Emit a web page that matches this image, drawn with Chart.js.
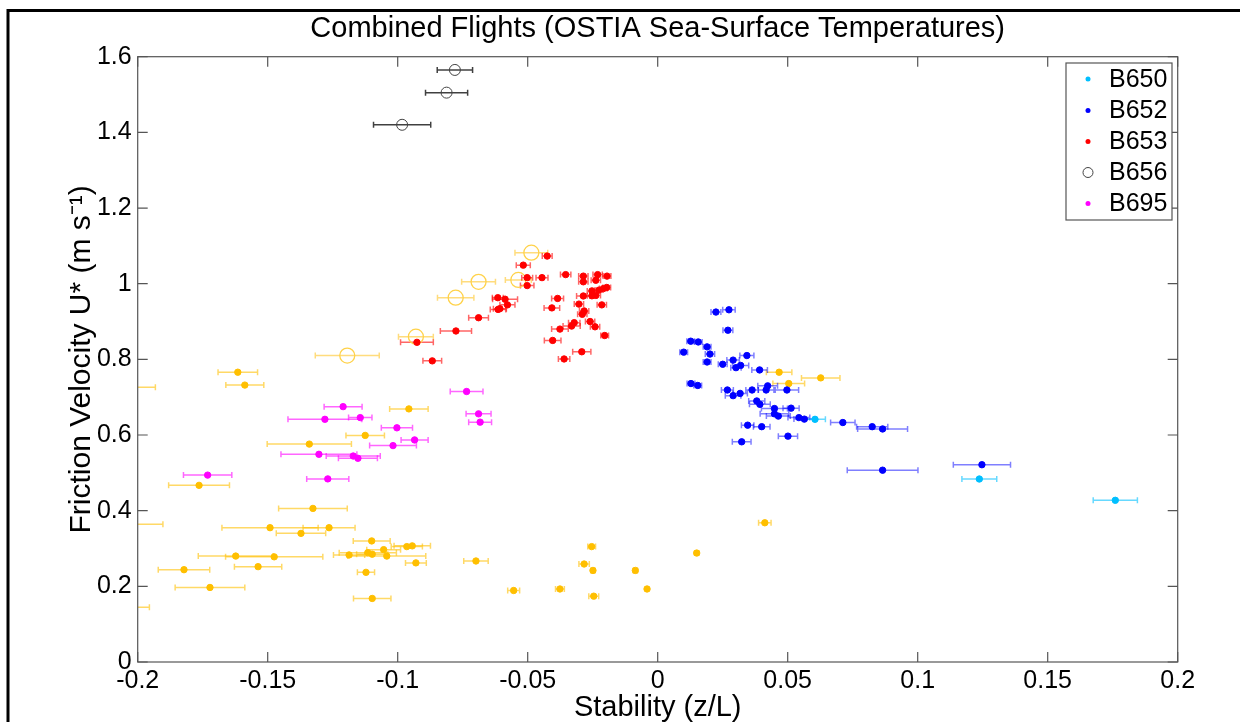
<!DOCTYPE html>
<html><head><meta charset="utf-8">
<script src="https://cdn.jsdelivr.net/npm/chart.js@4.4.0/dist/chart.umd.min.js"></script>
<style>html,body{margin:0;padding:0;background:#fff;}#wrap{width:1240px;height:722px;position:relative;}</style>
</head><body><div id="wrap"><canvas id="c" width="1240" height="722"></canvas></div>
<script>
// ---------- DATA ----------
const chartTitle = 'Combined Flights (OSTIA Sea-Surface Temperatures)';
const xAxisTitle = 'Stability (z/L)';
const yAxisTitle = 'Friction Velocity U* (m s\u207B\u00B9)';
const xTickLabels = ['-0.2','-0.15','-0.1','-0.05','0','0.05','0.1','0.15','0.2'];
const yTickLabels = ['0','0.2','0.4','0.6','0.8','1','1.2','1.4','1.6'];
const legendLabels = ['B650','B652','B653','B656','B695'];

const b650X = [0.0605, 0.1237, 0.176];
const b650Y = [0.6415, 0.4837, 0.4274];
const b650E = [0.004, 0.0067, 0.0085];

const b652X = [0.0224,0.0274,0.027,0.0127,0.0156,0.019,0.010,0.0201,0.0343,0.019,0.029,0.025,0.0319,0.0301,0.0392,0.0128,0.0154,0.0423,0.0268,0.0363,0.0417,0.0497,0.0317,0.029,0.0381,0.0393,0.0449,0.0513,0.0449,0.0464,0.0543,0.0564,0.0712,0.0825,0.0865,0.0346,0.040,0.0501,0.0323,0.1247,0.0865];
const b652Y = [0.925,0.931,0.877,0.848,0.846,0.833,0.819,0.814,0.810,0.793,0.798,0.787,0.784,0.778,0.772,0.736,0.731,0.730,0.719,0.719,0.719,0.719,0.710,0.704,0.690,0.681,0.670,0.671,0.656,0.650,0.646,0.642,0.633,0.622,0.616,0.626,0.622,0.597,0.582,0.5215,0.507];
const b652E = [0.0019,0.0024,0.0019,0.0015,0.0015,0.0015,0.0015,0.0018,0.0027,0.0015,0.0024,0.0017,0.0031,0.002,0.003,0.0015,0.0015,0.0038,0.0023,0.0024,0.003,0.0045,0.0028,0.003,0.0031,0.004,0.005,0.0031,0.0055,0.0046,0.0042,0.004,0.0047,0.006,0.0096,0.0024,0.0032,0.0037,0.0036,0.011,0.0136];

const b653X = [-0.0425,-0.0517,-0.0502,-0.0445,-0.0502,-0.0354,-0.0286,-0.0231,-0.0195,-0.0286,-0.0238,-0.0196,-0.0209,-0.0226,-0.0253,-0.0238,-0.0253,-0.0286,-0.0385,-0.0303,-0.0215,-0.0407,-0.0283,-0.029,-0.0321,-0.026,-0.0331,-0.0241,-0.0376,-0.0204,-0.0404,-0.0292,-0.036,-0.0615,-0.0587,-0.0578,-0.0614,-0.0607,-0.0689,-0.0776,-0.0926,-0.0867];
const b653Y = [1.073,1.049,1.016,1.016,0.995,1.024,1.020,1.024,1.020,1.005,1.009,0.990,0.987,0.983,0.981,0.969,0.968,0.9675,0.961,0.946,0.944,0.936,0.928,0.919,0.897,0.900,0.888,0.886,0.880,0.863,0.850,0.820,0.801,0.963,0.959,0.944,0.932,0.934,0.910,0.875,0.845,0.796];
const b653E = [0.0019,0.0027,0.0021,0.0023,0.0026,0.002,0.0018,0.0018,0.0015,0.0018,0.0018,0.0015,0.0015,0.0015,0.0018,0.0018,0.0018,0.0026,0.0023,0.0018,0.0018,0.003,0.0018,0.0018,0.0022,0.0018,0.0033,0.0018,0.0032,0.0015,0.0032,0.0035,0.0022,0.0021,0.0048,0.0029,0.003,0.0025,0.0038,0.006,0.0063,0.0036];

const b656X = [-0.078, -0.0812, -0.0983];
const b656Y = [1.565, 1.505, 1.42];
const b656E = [0.0068, 0.0081, 0.011];

const b695X = [-0.0735,-0.121,-0.1144,-0.128,-0.0689,-0.0683,-0.1003,-0.0935,-0.1018,-0.1303,-0.1171,-0.1153,-0.1731,-0.1269];
const b695Y = [0.715,0.675,0.646,0.6415,0.656,0.634,0.619,0.587,0.572,0.549,0.5445,0.5385,0.494,0.484];
const b695E = [0.0063,0.0073,0.0045,0.0142,0.0048,0.0044,0.006,0.0052,0.009,0.0146,0.0104,0.0075,0.0093,0.0081];

const otherOpenX = [-0.0486,-0.0689,-0.0536,-0.0777,-0.093,-0.1194];
const otherOpenY = [1.082,1.005,1.010,0.963,0.860,0.810];
const otherOpenE = [0.0063,0.0065,0.005,0.007,0.0067,0.0123];

const otherX = [-0.1615,-0.1588,-0.205,-0.0957,-0.1125,-0.134,-0.1764,-0.1326,-0.205,-0.1491,-0.1264,-0.1372,-0.110,-0.0965,-0.0944,-0.1054,-0.1115,-0.1098,-0.1187,-0.1042,-0.1623,-0.1475,-0.093,-0.0699,-0.1537,-0.1822,-0.1122,-0.1722,-0.0554,-0.0376,-0.1098,-0.205,0.0412,-0.0254,0.015,-0.0283,-0.0249,-0.0086,-0.0041,-0.0246,0.0467,0.0627,0.0504];
const otherY = [0.766,0.732,0.726,0.669,0.599,0.576,0.467,0.406,0.364,0.355,0.355,0.340,0.320,0.305,0.307,0.297,0.289,0.285,0.283,0.280,0.280,0.278,0.262,0.267,0.252,0.244,0.237,0.197,0.189,0.193,0.168,0.145,0.368,0.305,0.288,0.259,0.242,0.242,0.193,0.174,0.766,0.751,0.736];
const otherE = [0.0076,0.0073,0.0118,0.0074,0.0074,0.0162,0.0117,0.0132,0.0147,0.0185,0.010,0.0095,0.0071,0.006,0.007,0.0065,0.011,0.006,0.006,0.015,0.0144,0.0187,0.004,0.0047,0.0091,0.0099,0.0033,0.0134,0.0023,0.0017,0.0072,0.0095,0.0024,0.0015,0.0008,0.002,0.0008,0.0008,0.0006,0.0019,0.0049,0.0074,0.0061];

// ---------- BUILD ----------
const FONT = '"Liberation Sans", Arial, Helvetica, sans-serif';
function pts(xs, ys, es){ return xs.map((x,i)=>({x:x, y:ys[i], e:es[i]})); }
function ds(label, xs, ys, es, color, bar, opts){
  return Object.assign({label:label, data:pts(xs,ys,es), pointRadius:3.2, pointHoverRadius:3.2,
    backgroundColor:color, borderColor:color, pointBorderWidth:1, errColor:bar, showLine:false}, opts||{});
}
const datasets = [
  ds('B650', b650X, b650Y, b650E, '#00BFFF', 'rgba(0,191,255,0.6)', {inLegend:true}),
  ds('B652', b652X, b652Y, b652E, '#0000FF', 'rgba(0,0,255,0.5)', {inLegend:true}),
  ds('B653', b653X, b653Y, b653E, '#FF0000', 'rgba(255,0,0,0.6)', {inLegend:true}),
  ds('B656', b656X, b656Y, b656E, '#333333', 'rgba(0,0,0,0.75)', {inLegend:true, pointRadius:5.5, pointHoverRadius:5.5, backgroundColor:'rgba(255,255,255,0)', borderColor:'#444', pointBorderWidth:1}),
  ds('B695', b695X, b695Y, b695E, '#FF00FF', 'rgba(255,0,255,0.6)', {inLegend:true}),
  ds('other-open', otherOpenX, otherOpenY, otherOpenE, '#FFD24A', 'rgba(255,205,70,0.7)', {pointRadius:7.5, pointHoverRadius:7.5, backgroundColor:'rgba(255,255,255,0)', borderColor:'#FFD24A', pointBorderWidth:1.3}),
  ds('other', otherX, otherY, otherE, '#FFBF00', 'rgba(255,191,0,0.6)')
];

const PLOT = {left:137.7, right:1177.7, top:56.7, bottom:662};

const errorBars = {
  id:'errorBars',
  beforeDatasetsDraw(chart){
    const {ctx, chartArea:a, scales:{x, y}} = chart;
    ctx.save();
    ctx.beginPath(); ctx.rect(a.left, a.top, a.right-a.left, a.bottom-a.top); ctx.clip();
    for (let di = chart.data.datasets.length-1; di>=0; di--){
      const d = chart.data.datasets[di];
      ctx.strokeStyle = d.errColor; ctx.lineWidth = 1.5;
      d.data.forEach(p=>{
        const x0 = x.getPixelForValue(p.x - p.e), x1 = x.getPixelForValue(p.x + p.e), py = y.getPixelForValue(p.y);
        ctx.beginPath();
        ctx.moveTo(x0, py); ctx.lineTo(x1, py);
        ctx.moveTo(x0, py-3); ctx.lineTo(x0, py+3);
        ctx.moveTo(x1, py-3); ctx.lineTo(x1, py+3);
        ctx.stroke();
      });
    }
    ctx.restore();
  }
};

const decor = {
  id:'decor',
  afterDraw(chart){
    const {ctx, chartArea:a, scales:{x, y}} = chart;
    ctx.save();
    // figure frame
    ctx.strokeStyle = '#000'; ctx.lineWidth = 3;
    ctx.beginPath(); ctx.moveTo(8, 722); ctx.lineTo(8, 10.5); ctx.lineTo(1240, 10.5); ctx.stroke();
    // axes box
    ctx.strokeStyle = '#555'; ctx.lineWidth = 1.2;
    ctx.strokeRect(a.left, a.top, a.right-a.left, a.bottom-a.top);
    // inward ticks
    ctx.beginPath();
    x.ticks.forEach(t=>{ const px = x.getPixelForValue(t.value);
      ctx.moveTo(px, a.bottom); ctx.lineTo(px, a.bottom-10);
      ctx.moveTo(px, a.top); ctx.lineTo(px, a.top+10); });
    y.ticks.forEach(t=>{ const py = y.getPixelForValue(t.value);
      ctx.moveTo(a.left, py); ctx.lineTo(a.left+10, py);
      ctx.moveTo(a.right, py); ctx.lineTo(a.right-10, py); });
    ctx.stroke();
    // legend
    const L = {l:1066, t:63, r:1172, b:220};
    ctx.fillStyle = '#fff'; ctx.fillRect(L.l, L.t, L.r-L.l, L.b-L.t);
    ctx.strokeStyle = '#555'; ctx.lineWidth = 1.2; ctx.strokeRect(L.l, L.t, L.r-L.l, L.b-L.t);
    const rowY = [79, 110.5, 141.5, 172.5, 203.5];
    ctx.font = '25px ' + FONT; ctx.textBaseline = 'middle'; ctx.textAlign = 'left';
    chart.data.datasets.filter(d=>d.inLegend).forEach((d, i)=>{
      const ry = rowY[i];
      ctx.beginPath();
      if (d.label === 'B656') { ctx.arc(1088, ry, 5, 0, Math.PI*2); ctx.strokeStyle = '#444'; ctx.lineWidth = 1; ctx.stroke(); }
      else { ctx.arc(1088, ry, 2.5, 0, Math.PI*2); ctx.fillStyle = d.backgroundColor; ctx.fill(); }
      ctx.fillStyle = '#000';
      ctx.fillText(legendLabels[i], 1109, ry + 1);
    });
    ctx.restore();
  }
};

new Chart(document.getElementById('c'), {
  type:'scatter',
  data:{datasets:datasets},
  options:{
    responsive:false, animation:false, devicePixelRatio:1,
    layout:{padding:{left:0, right:1240-PLOT.right, top:0, bottom:0}},
    plugins:{
      legend:{display:false}, tooltip:{enabled:false},
      title:{display:true, text:chartTitle, fullSize:false, color:'#000',
        font:{family:FONT, size:29, weight:'normal', lineHeight:1.2}, padding:{top:12, bottom:PLOT.top-12-34.8}}
    },
    scales:{
      x:{type:'linear', min:-0.2, max:0.2,
        grid:{display:false, drawTicks:false}, border:{display:false},
        ticks:{stepSize:0.05, color:'#000', padding:4, maxRotation:0, autoSkip:false,
          font:{family:FONT, size:25},
          callback:(v,i)=> xTickLabels[i] !== undefined ? xTickLabels[i] : ''},
        title:{display:true, text:xAxisTitle, color:'#000', font:{family:FONT, size:29, lineHeight:1.0}, padding:{top:0, bottom:0}},
        afterFit(s){ s.height = 722 - PLOT.bottom; }
      },
      y:{type:'linear', min:0, max:1.6,
        grid:{display:false, drawTicks:false}, border:{display:false},
        ticks:{stepSize:0.2, color:'#000', padding:6, autoSkip:false,
          font:{family:FONT, size:25},
          callback:(v,i)=> yTickLabels[i] !== undefined ? yTickLabels[i] : ''},
        title:{display:true, text:yAxisTitle, color:'#000', font:{family:FONT, size:30}, padding:{top:64, bottom:0}},
        afterFit(s){ s.width = PLOT.left; }
      }
    }
  },
  plugins:[errorBars, decor]
});
</script></body></html>
